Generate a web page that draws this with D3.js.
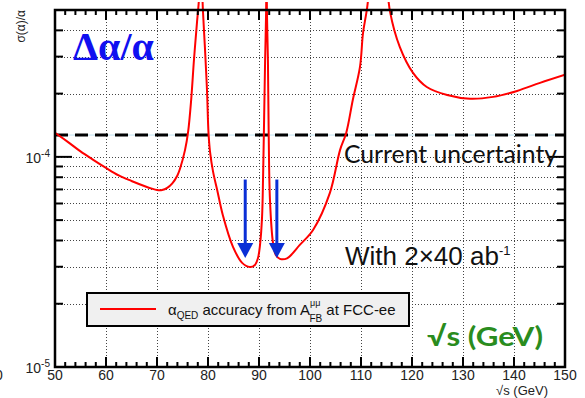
<!DOCTYPE html>
<html><head><meta charset="utf-8">
<script src="https://cdn.jsdelivr.net/npm/d3@7"></script>
<style>body{margin:0;background:#fff}svg{display:block}</style>
</head><body>
<svg id="c" width="585" height="398"></svg>
<script>
// ---- data ----
const sqrtS = [50,52.5,55,57.5,60,62.5,65,67.5,69,70,71,72,73,74,74.5,75.5,76.1,76.7,77.25,77.85,78.2,78.6,79.0,79.4,79.8,80.1,80.4,81.0,81.8,82.9,84.9,86.7,88.2,89.2,89.8,90.2,90.6,90.8,91.0,91.2,91.4,91.47,91.55,91.75,91.9,92.15,92.75,93.3,94.1,95.5,98.0,100.6,103.9,105.9,107.1,108.4,109.8,110.4,111.2,113.5,115.7,117.6,120.2,122.9,126.9,131.4,135.9,140.6,145.1,150];
const sigmaAlpha = [1.301e-4,1.179e-4,1.062e-4,9.68e-5,8.86e-5,8.16e-5,7.68e-5,7.27e-5,7.06e-5,6.96e-5,6.96e-5,7.12e-5,7.48e-5,8.16e-5,8.77e-5,1.08e-4,1.315e-4,1.868e-4,2.90e-4,4.39e-4,5.5e-4,9e-4,5.0e-4,3.3e-4,2.08e-4,1.30e-4,1.056e-4,8.48e-5,6.96e-5,5.29e-5,3.73e-5,3.13e-5,2.99e-5,3.06e-5,3.30e-5,3.81e-5,5.18e-5,8.03e-5,1.50e-4,2.90e-4,5.0e-4,1e-3,5.0e-4,2.9e-4,1.30e-4,6.24e-5,3.89e-5,3.41e-5,3.27e-5,3.29e-5,3.81e-5,4.49e-5,6.74e-5,1.08e-4,1.30e-4,1.87e-4,2.68e-4,3.89e-4,5.12e-4,1.5e-3,4.90e-4,3.34e-4,2.51e-4,2.15e-4,1.97e-4,1.89e-4,1.93e-4,2.06e-4,2.25e-4,2.46e-4];
const currentUncertainty = 1.27e-4;
const xMajorTicks = [50,60,70,80,90,100,110,120,130,140,150];
const xMinorTicks = d3.range(52,150,2).filter(v => v % 10 !== 0);
const xGrid = [60,70,80,90,100,110,120,130,140];
const yMajorTicks = [1e-5,1e-4];
const yMajorExp = ["-5","-4"];
const yMinorTicks = [2e-5,3e-5,4e-5,5e-5,6e-5,7e-5,8e-5,9e-5,2e-4,3e-4,4e-4];
const yGrid = [2e-5,3e-5,4e-5,5e-5,6e-5,7e-5,8e-5,9e-5,1e-4,2e-4,3e-4,4e-4];
const arrowS = [87.3,93.5];
const arrowFrom = 7.8e-5, arrowTo = 3.3e-5;

// ---- layout ----
const L=55,R=565,T=10,B=367;
const svg = d3.select("#c");
const x = d3.scaleLinear().domain([50,150]).range([L,R]);
const y = d3.scaleLog().domain([1e-5,5e-4]).range([B,T]);
const font = "'Liberation Sans', Arial, sans-serif";

// grid
const g = svg.append("g").attr("stroke","#444").attr("stroke-width",1).attr("stroke-dasharray","1,2");
g.selectAll(".vx").data(xGrid).join("line").attr("x1",d=>x(d)+0.5).attr("x2",d=>x(d)+0.5).attr("y1",T).attr("y2",B);
g.selectAll(".hy").data(yGrid).join("line").attr("y1",d=>Math.round(y(d))+0.5).attr("y2",d=>Math.round(y(d))+0.5).attr("x1",L).attr("x2",R);

// current uncertainty line
svg.append("line").attr("x1",L).attr("x2",R).attr("y1",y(currentUncertainty)).attr("y2",y(currentUncertainty))
  .attr("stroke","#bfe3f2").attr("stroke-width",1);
svg.append("line").attr("x1",L).attr("x2",R).attr("y1",y(currentUncertainty)).attr("y2",y(currentUncertainty))
  .attr("stroke","#000").attr("stroke-width",3).attr("stroke-dasharray","13,7");

// curve
svg.append("clipPath").attr("id","clip").append("rect").attr("x",L).attr("y",2).attr("width",R-L).attr("height",B-2);
const pts = sqrtS.map((s,i)=>({s, v:sigmaAlpha[i]}));
svg.append("path").datum(pts).attr("clip-path","url(#clip)")
  .attr("d", d3.line().x(d=>x(d.s)).y(d=>y(d.v)).curve(d3.curveCatmullRom.alpha(0.5)))
  .attr("fill","none").attr("stroke","#ff0000").attr("stroke-width",2);

// frame
svg.append("rect").attr("x",L).attr("y",T).attr("width",R-L).attr("height",B-T)
  .attr("fill","none").attr("stroke","#000").attr("stroke-width",2.5);

// ticks
const tk = svg.append("g").attr("stroke","#000").attr("stroke-width",2);
tk.selectAll(".xb").data(xMajorTicks).join("line").attr("x1",d=>x(d)).attr("x2",d=>x(d)).attr("y1",B).attr("y2",B-10);
tk.selectAll(".xbm").data(xMinorTicks).join("line").attr("x1",d=>x(d)).attr("x2",d=>x(d)).attr("y1",B).attr("y2",B-5);
tk.selectAll(".xt").data(xMajorTicks).join("line").attr("x1",d=>x(d)).attr("x2",d=>x(d)).attr("y1",T).attr("y2",T+10);
tk.selectAll(".xtm").data(xMinorTicks).join("line").attr("x1",d=>x(d)).attr("x2",d=>x(d)).attr("y1",T).attr("y2",T+5);
tk.selectAll(".yl").data(yMajorTicks).join("line").attr("y1",d=>y(d)).attr("y2",d=>y(d)).attr("x1",L).attr("x2",L+17);
tk.selectAll(".ylm").data(yMinorTicks).join("line").attr("y1",d=>y(d)).attr("y2",d=>y(d)).attr("x1",L).attr("x2",L+8);
tk.selectAll(".yr").data(yMajorTicks).join("line").attr("y1",d=>y(d)).attr("y2",d=>y(d)).attr("x1",R).attr("x2",R-17);
tk.selectAll(".yrm").data(yMinorTicks).join("line").attr("y1",d=>y(d)).attr("y2",d=>y(d)).attr("x1",R).attr("x2",R-8);

// x labels
svg.selectAll(".xlab").data(xMajorTicks).join("text").attr("x",d=>x(d)).attr("y",B+13)
  .attr("text-anchor","middle").attr("font-family",font).attr("font-size",14).attr("fill","#222").text(d=>d);
// y labels
yMajorTicks.forEach((v,i)=>{
  const t = svg.append("text").attr("x",L-5).attr("y",y(v)+6).attr("text-anchor","end")
    .attr("font-family",font).attr("font-size",14).attr("fill","#222");
  t.append("tspan").text("10");
  t.append("tspan").attr("dy",-6).attr("font-size",10).text(yMajorExp[i]);
});
svg.append("text").attr("x",-5).attr("y",380).attr("font-family",font).attr("font-size",14).attr("fill","#222").text("0");

// axis titles
svg.append("text").attr("transform","translate(25,10) rotate(-90)").attr("text-anchor","end")
  .attr("font-family",font).attr("font-size",12).attr("fill","#222").text("σ(α)/α");
svg.append("text").attr("x",548).attr("y",395).attr("text-anchor","end")
  .attr("font-family",font).attr("font-size",13).attr("fill","#222").text("√s (GeV)");

// annotations
svg.append("text").attr("x",73).attr("y",60).attr("font-family","'Liberation Serif', 'DejaVu Serif', serif")
  .attr("font-weight","bold").attr("font-size",40).attr("fill","#1010f0").text("Δα/α");
svg.append("text").attr("x",344).attr("y",163).attr("font-family","Lato, 'Open Sans', sans-serif")
  .attr("font-size",25).attr("fill","#111").attr("textLength",213).attr("lengthAdjust","spacingAndGlyphs").text("Current uncertainty");
const w = svg.append("text").attr("x",345).attr("y",265).attr("font-family",font).attr("font-size",26).attr("fill","#111");
w.append("tspan").text("With 2×40 ab");
w.append("tspan").attr("dy",-10).attr("font-size",13).text("-1");
svg.append("text").attr("x",427).attr("y",346).attr("font-family","Lato, 'Open Sans', sans-serif")
  .attr("font-weight","bold").attr("font-size",27).attr("fill","#2a8c1e").attr("textLength",116).attr("lengthAdjust","spacingAndGlyphs").text("√s (GeV)");

// arrows
const ac = "#0a2fd6";
arrowS.forEach(s=>{
  const ax = x(s), y0 = y(arrowFrom), y1 = y(arrowTo);
  svg.append("line").attr("x1",ax).attr("x2",ax).attr("y1",y0).attr("y2",y1-12).attr("stroke",ac).attr("stroke-width",3);
  svg.append("path").attr("d",`M${ax-8},${y1-15}L${ax+8},${y1-15}L${ax},${y1}Z`).attr("fill",ac);
});

// legend
svg.append("rect").attr("x",87).attr("y",293).attr("width",322).attr("height",33)
  .attr("fill","#f0f0f0").attr("stroke","#000").attr("stroke-width",2);
svg.append("line").attr("x1",100).attr("x2",156).attr("y1",309).attr("y2",309).attr("stroke","#ff0000").attr("stroke-width",2);
const lt = svg.append("text").attr("x",168).attr("y",315).attr("font-family",font).attr("font-size",15).attr("fill","#111");
lt.append("tspan").text("α");
lt.append("tspan").attr("dy",4).attr("font-size",10).text("QED");
lt.append("tspan").attr("dy",-4).text(" accuracy from A");
lt.append("tspan").attr("dy",-9).attr("font-size",9).text("μμ");
lt.append("tspan").attr("dx",-11).attr("dy",16).attr("font-size",10).text("FB");
lt.append("tspan").attr("dy",-7).text(" at FCC-ee");
</script>
</body></html>
